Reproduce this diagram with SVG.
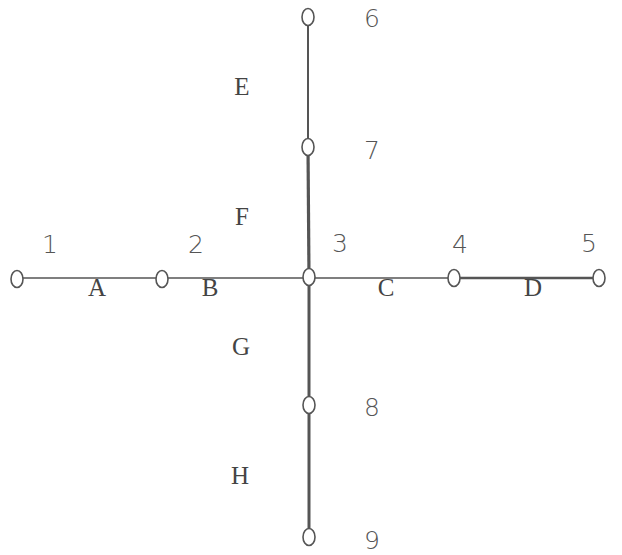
<svg xmlns="http://www.w3.org/2000/svg" width="622" height="555" viewBox="0 0 622 555">
<style>
.node{fill:#fff;stroke:#555;stroke-width:1.6}
.e{stroke:#555;fill:none}
.num{font-family:"DejaVu Sans","Liberation Sans",sans-serif;font-weight:200;font-size:25px;fill:#555;text-anchor:middle;dominant-baseline:central}
.let{font-family:"Liberation Serif","DejaVu Serif",serif;font-size:25px;fill:#444;text-anchor:middle;dominant-baseline:central}
</style>
<rect width="622" height="555" fill="#fff"/>
<g id="connectors">
<line class="e" x1="17" y1="278" x2="162" y2="278" stroke-width="1.6"/>
<line class="e" x1="162" y1="278" x2="309" y2="278" stroke-width="1.6"/>
<line class="e" x1="309" y1="278" x2="454" y2="278" stroke-width="1.6"/>
<line class="e" x1="454" y1="278" x2="599" y2="278" stroke-width="2.6"/>
<line class="e" x1="308" y1="17" x2="308" y2="147" stroke-width="2"/>
<line class="e" x1="308" y1="147" x2="309" y2="277" stroke-width="3.2"/>
<line class="e" x1="309" y1="277" x2="309" y2="405" stroke-width="3"/>
<line class="e" x1="309" y1="405" x2="309" y2="537" stroke-width="3"/>
</g>
<g id="n1"><ellipse class="node" cx="17" cy="279" rx="6" ry="8.5"/><text class="num" x="50" y="244">1</text></g>
<g id="n2"><ellipse class="node" cx="162" cy="279" rx="6" ry="8.5"/><text class="num" x="196" y="244">2</text></g>
<g id="n3"><ellipse class="node" cx="309" cy="277" rx="6" ry="8.5"/><text class="num" x="340" y="243">3</text></g>
<g id="n4"><ellipse class="node" cx="454" cy="278" rx="6" ry="8.5"/><text class="num" x="460" y="244">4</text></g>
<g id="n5"><ellipse class="node" cx="599" cy="278" rx="6" ry="8.5"/><text class="num" x="589" y="243">5</text></g>
<g id="n6"><ellipse class="node" cx="308" cy="17" rx="6" ry="8.5"/><text class="num" x="372" y="18">6</text></g>
<g id="n7"><ellipse class="node" cx="308" cy="147" rx="6" ry="8.5"/><text class="num" x="372" y="150">7</text></g>
<g id="n8"><ellipse class="node" cx="309" cy="405" rx="6" ry="8.5"/><text class="num" x="372" y="407">8</text></g>
<g id="n9"><ellipse class="node" cx="309" cy="537" rx="6" ry="8.5"/><text class="num" x="372" y="540">9</text></g>
<g id="labels">
<text class="let" x="97" y="287">A</text>
<text class="let" x="210" y="287">B</text>
<text class="let" x="386" y="287">C</text>
<text class="let" x="533" y="287">D</text>
<text class="let" x="242" y="86">E</text>
<text class="let" x="242" y="216">F</text>
<text class="let" x="241" y="346">G</text>
<text class="let" x="240" y="475">H</text>
</g>
</svg>
